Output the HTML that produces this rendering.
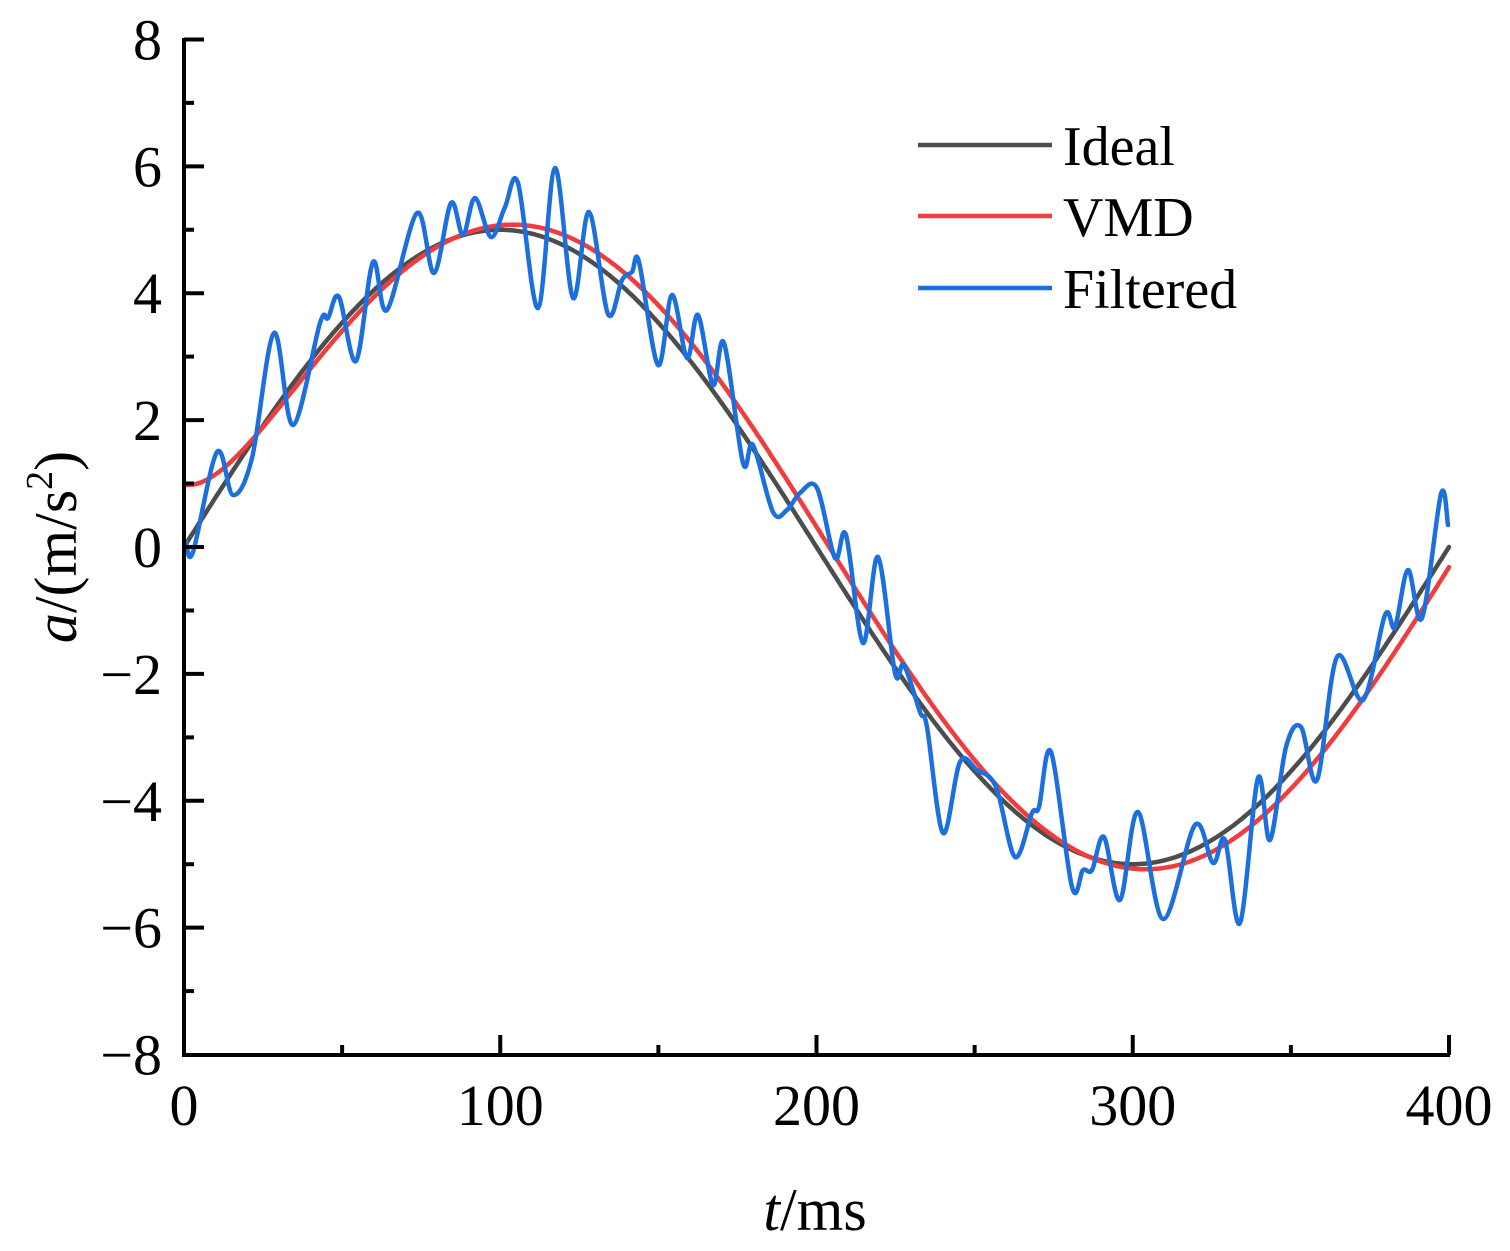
<!DOCTYPE html>
<html><head><meta charset="utf-8"><style>
html,body{margin:0;padding:0;background:#fff;}
svg{display:block;font-family:"Liberation Serif",serif;}
</style></head><body>
<svg id="s" width="1510" height="1251" viewBox="0 0 1510 1251" xmlns="http://www.w3.org/2000/svg">
<g id="curves" fill="none" stroke-linejoin="round" stroke-linecap="round"></g>
<g stroke="#000" stroke-width="4" fill="none" id="axes">
<path d="M184,38 V1055 H1450"/>
</g>
<g font-size="58" fill="#000" text-anchor="end" id="ylab"></g>
<g font-size="58" fill="#000" text-anchor="middle" id="xlab"></g>
<text x="815" y="1230" font-size="60" text-anchor="middle"><tspan font-style="italic">t</tspan>/ms</text>
<text transform="translate(76,547) rotate(-90)" font-size="60" text-anchor="middle"><tspan font-style="italic">a</tspan>/(m/s<tspan font-size="38" dy="-24">2</tspan><tspan dy="24">)</tspan></text>
<g stroke-width="4.5">
<line x1="918" y1="145" x2="1052" y2="145" stroke="#4d4d4d"/>
<line x1="918" y1="216" x2="1052" y2="216" stroke="#f03c3c"/>
<line x1="918" y1="288" x2="1052" y2="288" stroke="#1c6fde"/>
</g>
<g font-size="56" fill="#000">
<text x="1063" y="165">Ideal</text>
<text x="1063" y="236">VMD</text>
<text x="1063" y="308">Filtered</text>
</g>
</svg>
<script>
var NS="http://www.w3.org/2000/svg";
function X(t){return 184+t*3.1625;}
function Y(v){return 547-v*63.44;}
var ax=document.getElementById('axes'),yl=document.getElementById('ylab'),xl=document.getElementById('xlab');
var d="";
for(var v=-8;v<=8;v++){var y=Y(v);var L=(v%2===0)?20:10;if(v!==-8)d+="M184,"+y+"h"+L;
 if(v%2===0){var t=document.createElementNS(NS,'text');t.setAttribute('x',162);t.setAttribute('y',y+20);t.textContent=(v<0?'\u2212':'')+Math.abs(v);yl.appendChild(t);}}
for(var t=0;t<=400;t+=50){var x=X(t);var L=(t%100===0)?20:10;if(t!==0)d+="M"+x+",1055v-"+L;
 if(t%100===0){var e=document.createElementNS(NS,'text');e.setAttribute('x',x);e.setAttribute('y',1125);e.textContent=t;xl.appendChild(e);}}
var p=document.createElementNS(NS,'path');p.setAttribute('d',d);ax.appendChild(p);
var g=document.getElementById('curves');
function addPath(dd,c){var q=document.createElementNS(NS,'path');q.setAttribute('d',dd);q.setAttribute('stroke',c);q.setAttribute('stroke-width','4.5');g.appendChild(q);}
var a="",b="";
for(var i=0;i<=800;i++){var t=i/2;
 var vi=5*Math.sin(2*Math.PI*(t)/400);
 var vv=5.08*Math.sin(2*Math.PI*(t-4)/400)+1.3*Math.exp(-t/15);
 a+=(i?"L":"M")+X(t).toFixed(1)+","+Y(vi).toFixed(1);
 b+=(i?"L":"M")+X(t).toFixed(1)+","+Y(vv).toFixed(1);}
addPath(a,"#4d4d4d");addPath(b,"#f03c3c");
var P=[[186,542],[193,552],[217,452],[233,495],[252,458],[274,333],[293,425],[320,323],[328,318],[339,297],[356,361],[373,262],[387,310],[417,213],[434,273],[451,203],[463,235],[475,198],[491,237],[505,207],[518,183],[538,308],[555,168],[573,298],[589,212],[608,314],[622,280],[632,272],[639,262],[658,365],[672,295],[687,358],[698,315],[713,385],[724,343],[743,463],[753,445],[773,512],[787,510],[800,493],[817,488],[835,558],[846,535],[863,643],[878,557],[895,673],[904,665],[920,712],[927,727],[943,833],[960,762],[977,770],[996,787],[1015,857],[1032,813],[1039,807],[1051,752],[1072,887],[1083,870],[1092,870],[1104,837],[1120,900],[1138,812],[1163,919],[1195,825],[1213,863],[1225,840],[1240,923],[1258,778],[1270,840],[1286,747],[1301,727],[1317,780],[1337,657],[1363,700],[1385,615],[1395,627],[1408,570],[1422,618],[1441,494],[1448,525]];
var c="M"+P[0][0]+","+P[0][1];
for(var i=0;i<P.length-1;i++){var p0=P[Math.max(0,i-1)],p1=P[i],p2=P[i+1],p3=P[Math.min(P.length-1,i+2)];
 var c1x=p1[0]+(p2[0]-p0[0])/6,c1y=p1[1]+(p2[1]-p0[1])/6,c2x=p2[0]-(p3[0]-p1[0])/6,c2y=p2[1]-(p3[1]-p1[1])/6;
 c+="C"+c1x.toFixed(1)+","+c1y.toFixed(1)+" "+c2x.toFixed(1)+","+c2y.toFixed(1)+" "+p2[0]+","+p2[1];}
addPath(c,"#1c6fde");
</script>
</body></html>
